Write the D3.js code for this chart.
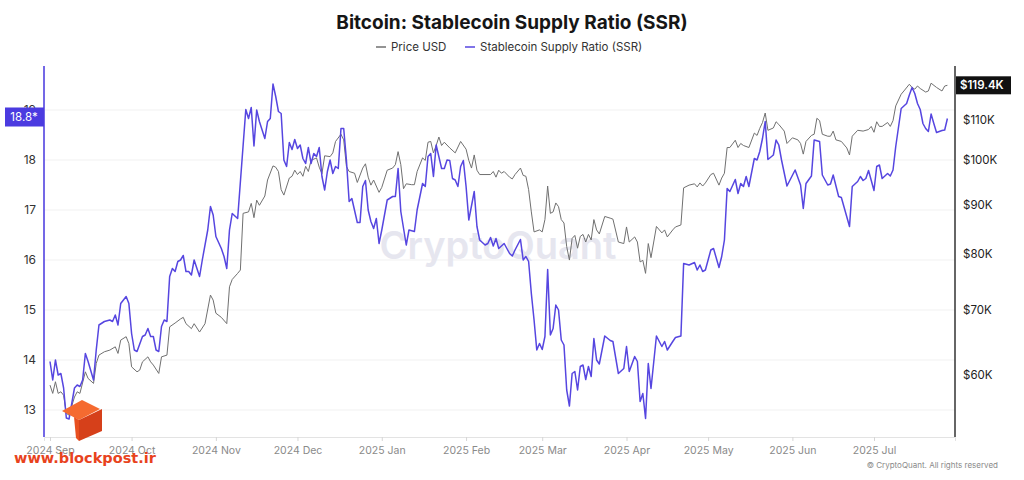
<!DOCTYPE html>
<html>
<head>
<meta charset="utf-8">
<script src="https://cdn.jsdelivr.net/npm/d3@7"></script>
<style>
  body { margin: 0; background: #fff; }
  svg { display: block; font-family: Inter, "Noto Sans", sans-serif; }
</style>
</head>
<body>
<script>
// SSR, daily values
const ssrSeries = [
  ["2024-09-01",13.97],["2024-09-02",13.6],["2024-09-03",14.0],["2024-09-04",13.7],["2024-09-05",13.73],["2024-09-06",13.44],["2024-09-07",12.84],["2024-09-08",12.82],["2024-09-10",13.44],["2024-09-11",13.5],["2024-09-12",13.47],["2024-09-13",13.6],["2024-09-14",14.13],["2024-09-15",13.97],["2024-09-17",13.6],["2024-09-18",14.2],["2024-09-19",14.7],["2024-09-21",14.77],["2024-09-23",14.8],["2024-09-24",14.77],["2024-09-25",14.9],["2024-09-26",14.7],["2024-09-27",15.13],["2024-09-29",15.27],["2024-09-30",15.13],
  ["2024-10-01",14.53],["2024-10-02",14.2],["2024-10-03",14.17],["2024-10-05",14.47],["2024-10-06",14.5],["2024-10-07",14.63],["2024-10-08",14.47],["2024-10-09",14.47],["2024-10-10",14.2],["2024-10-11",14.17],["2024-10-12",14.67],["2024-10-13",14.8],["2024-10-14",14.77],["2024-10-15",15.67],["2024-10-16",15.83],["2024-10-17",15.77],["2024-10-18",15.97],["2024-10-19",16.0],["2024-10-20",16.09],["2024-10-21",15.77],["2024-10-22",15.77],["2024-10-23",15.7],["2024-10-24",16.0],["2024-10-26",15.67],["2024-10-27",16.0],["2024-10-29",16.6],["2024-10-30",17.07],["2024-10-31",16.9],
  ["2024-11-01",16.47],["2024-11-03",16.23],["2024-11-04",16.07],["2024-11-05",15.83],["2024-11-06",16.6],["2024-11-07",16.93],["2024-11-09",16.83],["2024-11-12",19.01],["2024-11-13",18.83],["2024-11-14",19.05],["2024-11-15",18.28],["2024-11-16",19.0],["2024-11-17",18.77],["2024-11-19",18.43],["2024-11-20",18.77],["2024-11-21",18.83],["2024-11-22",19.52],["2024-11-23",19.27],["2024-11-24",18.97],["2024-11-25",18.93],["2024-11-26",18.0],["2024-11-27",17.87],["2024-11-28",18.35],["2024-11-29",18.21],["2024-11-30",18.41],
  ["2024-12-01",18.23],["2024-12-02",18.3],["2024-12-03",18.03],["2024-12-04",17.93],["2024-12-05",18.25],["2024-12-06",17.93],["2024-12-07",18.13],["2024-12-08",18.07],["2024-12-09",18.25],["2024-12-10",17.67],["2024-12-11",17.4],["2024-12-12",17.77],["2024-12-13",18.0],["2024-12-14",17.73],["2024-12-15",17.87],["2024-12-16",17.83],["2024-12-17",18.63],["2024-12-18",18.63],["2024-12-19",18.0],["2024-12-20",17.17],["2024-12-21",17.23],["2024-12-23",16.75],["2024-12-24",16.75],["2024-12-25",17.47],["2024-12-26",17.59],["2024-12-27",17.0],["2024-12-28",16.77],["2024-12-29",16.63],["2024-12-30",16.83],["2024-12-31",16.33],
  ["2025-01-01",16.6],["2025-01-03",17.2],["2025-01-05",17.27],["2025-01-06",17.27],["2025-01-07",17.83],["2025-01-08",16.97],["2025-01-10",16.3],["2025-01-11",16.6],["2025-01-13",16.57],["2025-01-14",17.0],["2025-01-16",17.53],["2025-01-17",17.47],["2025-01-18",18.07],["2025-01-19",18.13],["2025-01-20",17.67],["2025-01-21",18.3],["2025-01-23",17.83],["2025-01-24",17.83],["2025-01-25",18.0],["2025-01-26",17.99],["2025-01-27",17.63],["2025-01-28",17.6],["2025-01-29",17.47],["2025-01-30",17.87],["2025-01-31",17.99],
  ["2025-02-01",17.47],["2025-02-02",16.8],["2025-02-04",17.37],["2025-02-05",16.67],["2025-02-06",16.4],["2025-02-08",16.3],["2025-02-09",16.33],["2025-02-10",16.45],["2025-02-11",16.28],["2025-02-12",16.43],["2025-02-13",16.23],["2025-02-15",16.33],["2025-02-17",16.13],["2025-02-18",16.08],["2025-02-19",16.2],["2025-02-21",16.41],["2025-02-22",16.0],["2025-02-23",16.07],["2025-02-24",15.97],["2025-02-25",15.33],["2025-02-26",14.8],["2025-02-27",14.2],["2025-02-28",14.33],
  ["2025-03-01",14.21],["2025-03-02",14.47],["2025-03-03",15.81],["2025-03-04",14.5],["2025-03-05",14.63],["2025-03-06",15.1],["2025-03-07",15.0],["2025-03-08",14.4],["2025-03-09",14.3],["2025-03-10",13.4],["2025-03-11",13.08],["2025-03-12",13.73],["2025-03-13",13.77],["2025-03-14",13.4],["2025-03-15",13.87],["2025-03-16",13.9],["2025-03-17",13.61],["2025-03-18",13.87],["2025-03-19",13.67],["2025-03-20",14.43],["2025-03-21",14.0],["2025-03-22",13.92],["2025-03-24",14.48],["2025-03-26",14.39],["2025-03-27",14.37],["2025-03-29",13.73],["2025-03-31",13.83],
  ["2025-04-01",14.27],["2025-04-02",13.77],["2025-04-04",14.07],["2025-04-05",13.97],["2025-04-06",13.17],["2025-04-07",13.33],["2025-04-08",12.83],["2025-04-09",13.93],["2025-04-10",13.43],["2025-04-12",14.48],["2025-04-14",14.27],["2025-04-15",14.37],["2025-04-16",14.2],["2025-04-18",14.37],["2025-04-19",14.45],["2025-04-21",14.48],["2025-04-22",15.93],["2025-04-24",15.9],["2025-04-26",15.95],["2025-04-27",15.8],["2025-04-28",15.9],["2025-04-29",15.77],["2025-04-30",15.8],
  ["2025-05-02",16.2],["2025-05-03",16.23],["2025-05-05",15.85],["2025-05-06",16.07],["2025-05-07",16.4],["2025-05-08",17.43],["2025-05-09",17.37],["2025-05-11",17.61],["2025-05-12",17.33],["2025-05-13",17.53],["2025-05-14",17.47],["2025-05-15",17.67],["2025-05-16",17.47],["2025-05-18",18.03],["2025-05-19",18.0],["2025-05-20",18.17],["2025-05-21",18.43],["2025-05-22",18.77],["2025-05-23",18.01],["2025-05-25",18.1],["2025-05-26",18.4],["2025-05-27",18.3],["2025-05-28",18.0],["2025-05-30",17.48],
  ["2025-06-02",17.8],["2025-06-04",17.5],["2025-06-05",17.03],["2025-06-06",17.53],["2025-06-08",17.68],["2025-06-09",18.4],["2025-06-11",18.37],["2025-06-12",17.7],["2025-06-14",17.5],["2025-06-15",17.52],["2025-06-16",17.7],["2025-06-18",17.27],["2025-06-19",17.25],["2025-06-22",16.67],["2025-06-23",17.47],["2025-06-25",17.57],["2025-06-26",17.67],["2025-06-27",17.59],["2025-06-28",17.63],["2025-06-29",17.79],
  ["2025-07-01",17.39],["2025-07-02",17.87],["2025-07-03",17.9],["2025-07-04",17.63],["2025-07-06",17.73],["2025-07-07",17.68],["2025-07-08",17.8],["2025-07-09",18.27],["2025-07-11",19.03],["2025-07-12",19.08],["2025-07-13",19.13],["2025-07-14",19.3],["2025-07-15",19.45],["2025-07-16",19.33],["2025-07-17",19.13],["2025-07-18",19.01],["2025-07-19",18.73],["2025-07-20",18.63],["2025-07-21",18.57],["2025-07-22",18.92],["2025-07-23",18.73],["2025-07-24",18.55],["2025-07-26",18.59],["2025-07-27",18.6],["2025-07-28",18.83]
];

// BTC price in USD (thousands)
const priceSeries = [
  ["2024-09-01",58.59],["2024-09-02",57.45],["2024-09-03",59.06],["2024-09-04",57.45],["2024-09-05",57.67],["2024-09-06",57.2],["2024-09-07",54.78],["2024-09-08",54.57],["2024-09-10",56.96],["2024-09-11",57.67],["2024-09-12",57.45],["2024-09-14",60.47],["2024-09-15",59.53],["2024-09-17",58.83],["2024-09-18",61.69],["2024-09-19",62.92],["2024-09-21",63.42],["2024-09-23",63.67],["2024-09-25",64.17],["2024-09-26",63.17],["2024-09-27",65.2],["2024-09-29",65.73],["2024-09-30",64.66],
  ["2024-10-01",61.19],["2024-10-03",60.47],["2024-10-04",60.72],["2024-10-05",61.92],["2024-10-07",62.66],["2024-10-08",61.92],["2024-10-09",61.45],["2024-10-11",60.24],["2024-10-12",62.66],["2024-10-14",62.92],["2024-10-15",67.29],["2024-10-17",67.9],["2024-10-19",68.56],["2024-10-20",68.82],["2024-10-21",67.79],["2024-10-23",67.0],["2024-10-24",67.79],["2024-10-26",66.46],["2024-10-28",67.79],["2024-10-30",72.56],["2024-10-31",71.7],
  ["2024-11-01",69.5],["2024-11-03",68.82],["2024-11-05",67.8],["2024-11-06",74.0],["2024-11-07",75.3],["2024-11-09",76.4],["2024-11-10",77.0],["2024-11-11",88.1],["2024-11-13",88.4],["2024-11-14",90.2],["2024-11-15",87.2],["2024-11-16",90.9],["2024-11-17",89.8],["2024-11-19",91.8],["2024-11-20",95.35],["2024-11-22",98.6],["2024-11-23",98.3],["2024-11-24",97.3],["2024-11-25",93.2],["2024-11-26",92.0],["2024-11-28",95.8],["2024-11-29",96.2],["2024-11-30",97.6],
  ["2024-12-01",96.6],["2024-12-02",97.3],["2024-12-03",96.2],["2024-12-04",98.5],["2024-12-05",97.3],["2024-12-06",99.9],["2024-12-08",100.5],["2024-12-09",98.3],["2024-12-10",96.8],["2024-12-11",101.0],["2024-12-13",100.8],["2024-12-14",101.7],["2024-12-15",104.5],["2024-12-17",106.3],["2024-12-18",104.9],["2024-12-19",98.5],["2024-12-20",97.3],["2024-12-22",96.9],["2024-12-23",94.8],["2024-12-25",98.1],["2024-12-26",99.1],["2024-12-27",96.0],["2024-12-28",94.2],["2024-12-29",95.35],["2024-12-31",92.6],
  ["2025-01-01",93.7],["2025-01-03",97.6],["2025-01-05",98.1],["2025-01-06",98.9],["2025-01-07",102.0],["2025-01-08",98.9],["2025-01-09",93.4],["2025-01-10",94.5],["2025-01-12",94.3],["2025-01-13",94.3],["2025-01-14",97.3],["2025-01-16",100.5],["2025-01-17",99.9],["2025-01-18",104.3],["2025-01-19",104.5],["2025-01-20",101.7],["2025-01-21",103.5],["2025-01-22",105.6],["2025-01-23",103.5],["2025-01-24",104.3],["2025-01-26",102.9],["2025-01-28",101.7],["2025-01-30",104.5],
  ["2025-02-01",102.6],["2025-02-02",99.9],["2025-02-03",98.1],["2025-02-04",101.2],["2025-02-05",97.6],["2025-02-06",96.6],["2025-02-10",96.6],["2025-02-11",97.3],["2025-02-12",96.0],["2025-02-13",97.6],["2025-02-14",96.9],["2025-02-15",97.3],["2025-02-17",96.0],["2025-02-18",95.6],["2025-02-19",96.6],["2025-02-21",98.1],["2025-02-22",96.4],["2025-02-23",96.2],["2025-02-24",93.2],["2025-02-25",88.4],["2025-02-26",84.3],["2025-02-28",84.7],
  ["2025-03-01",84.3],["2025-03-02",86.8],["2025-03-03",94.0],["2025-03-04",88.1],["2025-03-05",88.4],["2025-03-06",90.3],["2025-03-07",89.5],["2025-03-08",86.8],["2025-03-09",86.1],["2025-03-10",81.4],["2025-03-11",78.85],["2025-03-12",83.0],["2025-03-13",83.6],["2025-03-14",81.1],["2025-03-15",83.4],["2025-03-16",83.8],["2025-03-17",82.3],["2025-03-18",83.8],["2025-03-19",82.7],["2025-03-20",86.8],["2025-03-21",84.7],["2025-03-22",83.9],["2025-03-24",87.45],["2025-03-26",87.1],["2025-03-27",86.9],["2025-03-29",82.3],["2025-03-31",82.0],
  ["2025-04-01",85.3],["2025-04-02",82.3],["2025-04-04",83.3],["2025-04-05",82.3],["2025-04-06",78.5],["2025-04-07",78.8],["2025-04-08",76.4],["2025-04-09",82.0],["2025-04-10",79.3],["2025-04-12",85.4],["2025-04-14",84.1],["2025-04-15",84.7],["2025-04-16",83.3],["2025-04-18",84.7],["2025-04-19",85.3],["2025-04-21",85.7],["2025-04-22",93.6],["2025-04-24",94.2],["2025-04-26",94.5],["2025-04-27",93.8],["2025-04-28",94.7],["2025-04-29",94.0],["2025-04-30",94.7],
  ["2025-05-02",96.6],["2025-05-03",96.9],["2025-05-05",94.2],["2025-05-06",95.8],["2025-05-07",96.9],["2025-05-08",103.0],["2025-05-09",103.0],["2025-05-11",104.8],["2025-05-12",103.0],["2025-05-13",104.0],["2025-05-14",103.5],["2025-05-16",103.0],["2025-05-18",106.6],["2025-05-19",106.0],["2025-05-20",107.8],["2025-05-21",109.3],["2025-05-22",111.8],["2025-05-23",107.3],["2025-05-25",107.9],["2025-05-26",109.5],["2025-05-27",108.8],["2025-05-29",107.1],["2025-05-30",104.0],
  ["2025-06-01",105.4],["2025-06-03",104.9],["2025-06-04",104.0],["2025-06-05",101.4],["2025-06-06",104.5],["2025-06-08",106.0],["2025-06-09",106.3],["2025-06-10",110.4],["2025-06-11",109.8],["2025-06-12",106.3],["2025-06-14",105.8],["2025-06-15",105.8],["2025-06-16",107.1],["2025-06-17",104.9],["2025-06-19",104.5],["2025-06-21",102.9],["2025-06-22",101.2],["2025-06-23",105.8],["2025-06-25",107.3],["2025-06-27",107.1],["2025-06-29",107.5],["2025-06-30",108.3],
  ["2025-07-01",106.8],["2025-07-02",109.5],["2025-07-03",108.3],["2025-07-04",108.3],["2025-07-06",109.3],["2025-07-07",108.3],["2025-07-08",109.8],["2025-07-09",113.7],["2025-07-11",116.9],["2025-07-12",117.8],["2025-07-14",119.7],["2025-07-15",118.8],["2025-07-16",118.3],["2025-07-17",119.2],["2025-07-18",118.5],["2025-07-20",117.5],["2025-07-21",117.8],["2025-07-22",120.0],["2025-07-24",118.8],["2025-07-26",117.8],["2025-07-27",119.2],["2025-07-28",119.4]
];

const ssrTicks = [13, 14, 15, 16, 17, 18, 19];
const priceTicks = [60, 70, 80, 90, 100, 110];
const legendKeys = ["Price USD", "Stablecoin Supply Ratio (SSR)"];
const titleText = "Bitcoin: Stablecoin Supply Ratio (SSR)";

const width = 1024, height = 480;
const plot = { left: 44, right: 955, top: 66, bottom: 437 };
const ssrColor = "#5646e0";
const priceColor = "#707070";

const parse = d3.timeParse("%Y-%m-%d");
let ssrData = ssrSeries.map(d => ({ date: parse(d[0]), v: d[1] }));
let priceData = priceSeries.map(d => ({ date: parse(d[0]), v: d[1] }));

let xScale = d3.scaleTime()
  .domain([new Date(2024, 7, 29, 19), new Date(2025, 6, 30, 19)])
  .range([plot.left, plot.right]);
let yLeft = d3.scaleLinear()
  .domain([12.46, 19.88])
  .range([plot.bottom, plot.top]);
let yRight = d3.scaleLog()
  .domain([51.8, 125])
  .range([plot.bottom, plot.top]);

let svg = d3.select("body").append("svg")
  .attr("width", width)
  .attr("height", height);

// title + legend
svg.append("text")
  .attr("x", 512).attr("y", 29)
  .attr("text-anchor", "middle")
  .style("font-size", "19px").style("font-weight", 700).style("fill", "#161616")
  .text(titleText);

let legend = svg.append("g");
let legendX = [376, 465];
let legendColors = [priceColor, ssrColor];
legend.selectAll("line")
  .data(legendKeys)
  .join("line")
  .attr("x1", (d, i) => legendX[i]).attr("x2", (d, i) => legendX[i] + 10)
  .attr("y1", 47).attr("y2", 47)
  .attr("stroke", (d, i) => legendColors[i])
  .attr("stroke-width", 1.5);
legend.selectAll("text")
  .data(legendKeys)
  .join("text")
  .attr("x", (d, i) => legendX[i] + 15).attr("y", 51)
  .style("font-size", "11.5px").style("fill", "#333")
  .text(d => d);

// grid
svg.append("g").selectAll("line")
  .data(ssrTicks)
  .join("line")
  .attr("x1", plot.left).attr("x2", plot.right)
  .attr("y1", d => yLeft(d)).attr("y2", d => yLeft(d))
  .attr("stroke", "#f1f1f1").attr("stroke-width", 1);

// watermark
svg.append("text")
  .attr("x", 498).attr("y", 259)
  .attr("text-anchor", "middle")
  .style("font-size", "38px").style("font-weight", 600)
  .style("fill", "#e6e6ef")
  .text("CryptoQuant");

// lines
let priceLine = d3.line().x(d => xScale(d.date)).y(d => yRight(d.v));
let ssrLine = d3.line().x(d => xScale(d.date)).y(d => yLeft(d.v));

svg.append("path")
  .attr("d", priceLine(priceData))
  .attr("fill", "none")
  .attr("stroke", priceColor)
  .attr("stroke-width", 1)
  .attr("stroke-linejoin", "round");
svg.append("path")
  .attr("d", ssrLine(ssrData))
  .attr("fill", "none")
  .attr("stroke", ssrColor)
  .attr("stroke-width", 1.5)
  .attr("stroke-linejoin", "round");

// x axis
let xAxis = d3.axisBottom(xScale)
  .ticks(d3.timeMonth.every(1))
  .tickFormat(d3.timeFormat("%Y %b"))
  .tickSizeOuter(0)
  .tickSize(4)
  .tickPadding(6);
let gx = svg.append("g")
  .attr("transform", "translate(0," + plot.bottom + ")")
  .call(xAxis);
gx.select(".domain").attr("stroke", "#e3e3e3");
gx.selectAll(".tick line").attr("stroke", "#d6d6d6");
gx.selectAll("text")
  .style("font-family", "Inter, sans-serif")
  .style("font-size", "10.5px").style("fill", "#8a8a8a");

// left axis
let yAxisL = d3.axisLeft(yLeft).tickValues(ssrTicks).tickSize(0).tickPadding(8);
let gl = svg.append("g")
  .attr("transform", "translate(" + plot.left + ",0)")
  .call(yAxisL);
gl.select(".domain").remove();
gl.selectAll("text")
  .style("font-family", "Inter, sans-serif")
  .style("font-size", "12px").style("fill", "#333");
svg.append("line")
  .attr("x1", plot.left).attr("x2", plot.left)
  .attr("y1", plot.top).attr("y2", plot.bottom)
  .attr("stroke", "#7468e6").attr("stroke-width", 2);

// right axis
let yAxisR = d3.axisRight(yRight).tickValues(priceTicks).tickSize(0).tickPadding(8)
  .tickFormat(d => "$" + d + "K");
let gr = svg.append("g")
  .attr("transform", "translate(" + plot.right + ",0)")
  .call(yAxisR);
gr.select(".domain").remove();
gr.selectAll("text")
  .style("font-family", "Inter, sans-serif")
  .style("font-size", "11.5px").style("fill", "#222");
svg.append("line")
  .attr("x1", plot.right).attr("x2", plot.right)
  .attr("y1", plot.top).attr("y2", plot.bottom)
  .attr("stroke", "#333").attr("stroke-width", 1.5);

// last value badges
let lastSsr = ssrData[ssrData.length - 1].v;
let ySsr = yLeft(lastSsr) - 1.5;
svg.append("rect")
  .attr("x", 5).attr("y", ySsr - 9.5).attr("width", plot.left - 5).attr("height", 19)
  .attr("fill", "#4b3be0");
svg.append("text")
  .attr("x", 24).attr("y", ySsr + 4)
  .attr("text-anchor", "middle")
  .style("font-size", "11.5px").style("fill", "#fff")
  .text(d3.format(".1f")(lastSsr) + "*");

let lastPrice = priceData[priceData.length - 1].v;
let yPrice = yRight(lastPrice);
svg.append("rect")
  .attr("x", plot.right + 1).attr("y", yPrice - 9).attr("width", 55).attr("height", 18)
  .attr("fill", "#111");
svg.append("text")
  .attr("x", plot.right + 5).attr("y", yPrice + 4)
  .style("font-size", "11.5px").style("font-weight", 600).style("fill", "#fff")
  .text("$" + d3.format(".1f")(lastPrice) + "K");

// credits
svg.append("text")
  .attr("x", 998).attr("y", 468)
  .attr("text-anchor", "end")
  .style("font-size", "8px").style("fill", "#8a8a8a")
  .text("\u00a9 CryptoQuant. All rights reserved");

// blockpost mark
let logo = svg.append("g");
logo.append("polygon")
  .attr("points", "62,411 82,400 100,409 79,420")
  .attr("fill", "#f56a30");
logo.append("polygon")
  .attr("points", "79,420 102,409 102,431 79,441")
  .attr("fill", "#d6401a");
logo.append("polygon")
  .attr("points", "74,417 79,420 79,441 76,438")
  .attr("fill", "#e85020");
svg.append("text")
  .attr("x", 14).attr("y", 463)
  .style("font-family", "'DejaVu Sans', sans-serif")
  .style("font-size", "14.5px").style("font-weight", 700)
  .style("fill", "#e8431d")
  .text("www.blockpost.ir");
</script>
</body>
</html>
